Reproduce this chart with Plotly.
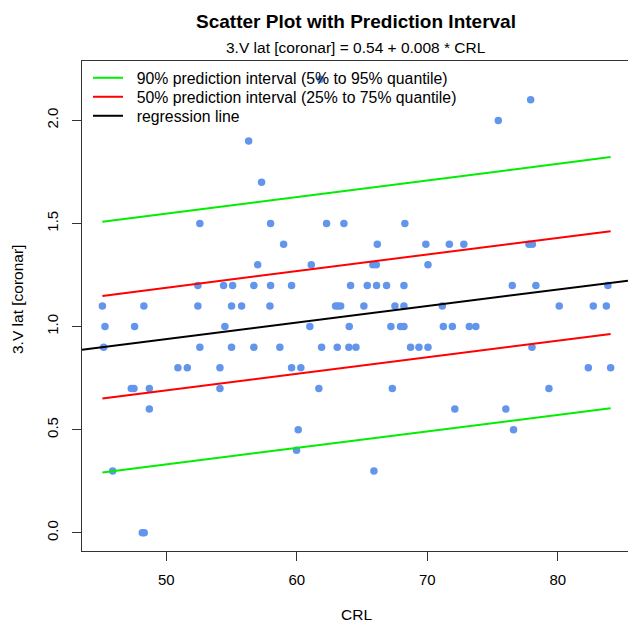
import plotly.graph_objects as go

# ---- data ----
crl = [61.82, 77.92, 75.44, 56.31, 57.30,
       52.57, 57.99, 62.28, 63.61, 68.28,
       58.99, 66.17, 69.89, 71.69, 72.80, 77.79, 78.05,
       57.00, 61.11, 65.83, 66.09, 70.05,
       52.42, 54.39, 55.08, 56.71, 57.99, 59.60, 64.12, 65.40, 66.11, 66.88, 68.21, 76.51, 78.32, 83.84,
       45.10, 48.28, 52.42, 55.00, 55.77, 57.94, 62.97, 63.15, 63.36, 65.14, 67.52, 68.21, 71.15, 80.11, 82.72, 83.72,
       45.30, 47.57, 54.49, 61.00, 64.02, 67.21, 67.95, 68.21, 71.23, 71.92, 73.22, 73.72,
       45.20, 52.57, 55.00, 56.71, 58.70, 61.90, 63.10, 63.99, 64.53, 68.72, 69.36, 70.05, 78.02,
       50.89, 51.61, 54.11, 59.60, 60.31, 82.34, 84.05,
       47.32, 47.52, 48.70, 54.11, 61.69, 67.32, 79.32,
       48.70, 72.11, 76.02,
       60.11, 76.61,
       59.98,
       45.89, 65.91,
       48.16, 48.31]
vlat = [2.2, 2.1, 2.0, 1.9, 1.7,
        1.5, 1.5, 1.5, 1.5, 1.5,
        1.4, 1.4, 1.4, 1.4, 1.4, 1.4, 1.4,
        1.3, 1.3, 1.3, 1.3, 1.3,
        1.2, 1.2, 1.2, 1.2, 1.2, 1.2, 1.2, 1.2, 1.2, 1.2, 1.2, 1.2, 1.2, 1.2,
        1.1, 1.1, 1.1, 1.1, 1.1, 1.1, 1.1, 1.1, 1.1, 1.1, 1.1, 1.1, 1.1, 1.1, 1.1, 1.1,
        1.0, 1.0, 1.0, 1.0, 1.0, 1.0, 1.0, 1.0, 1.0, 1.0, 1.0, 1.0,
        0.9, 0.9, 0.9, 0.9, 0.9, 0.9, 0.9, 0.9, 0.9, 0.9, 0.9, 0.9, 0.9,
        0.8, 0.8, 0.8, 0.8, 0.8, 0.8, 0.8,
        0.7, 0.7, 0.7, 0.7, 0.7, 0.7, 0.7,
        0.6, 0.6, 0.6,
        0.5, 0.5,
        0.4,
        0.3, 0.3,
        0.0, 0.0]

intercept = 0.54
slope = 0.008

pi_x = [45.10, 84.05]
pi90_upper = [1.508, 1.822]
pi90_lower = [0.293, 0.604]
pi50_upper = [1.149, 1.463]
pi50_lower = [0.652, 0.964]

x_range = [43.54, 85.38]
y_range = [-0.088, 2.288]
x_ticks = [50, 60, 70, 80]
y_ticks = [0.0, 0.5, 1.0, 1.5, 2.0]
y_ticktext = ["0.0", "0.5", "1.0", "1.5", "2.0"]

legend_labels = ["90% prediction interval (5% to 95% quantile)",
                 "50% prediction interval (25% to 75% quantile)",
                 "regression line"]

reg_x = x_range
reg_y = [intercept + slope * v for v in reg_x]

FONT = "Liberation Sans, Arial, sans-serif"
PAD = "\u00a0\u00a0"

fig = go.Figure()
fig.add_trace(go.Scatter(x=crl, y=vlat, mode="markers",
                         marker=dict(color="#6495ED", size=7.5),
                         showlegend=False, hoverinfo="x+y"))
fig.add_trace(go.Scatter(x=pi_x, y=pi90_upper, mode="lines",
                         line=dict(color="#00EE00", width=2),
                         name=PAD + legend_labels[0], legend="legend"))
fig.add_trace(go.Scatter(x=pi_x, y=pi90_lower, mode="lines",
                         line=dict(color="#00EE00", width=2),
                         showlegend=False))
fig.add_trace(go.Scatter(x=pi_x, y=pi50_upper, mode="lines",
                         line=dict(color="#FF0000", width=2),
                         name=PAD + legend_labels[1], legend="legend2"))
fig.add_trace(go.Scatter(x=pi_x, y=pi50_lower, mode="lines",
                         line=dict(color="#FF0000", width=2),
                         showlegend=False))
fig.add_trace(go.Scatter(x=reg_x, y=reg_y, mode="lines",
                         line=dict(color="#000000", width=2),
                         name=PAD + legend_labels[2], legend="legend3"))

L, R, T, B = 82, 0, 61, 73
W, H = 628, 624
pw, ph = W - L - R, H - T - B

def px(xp):
    return (xp - L) / pw

def py(yp):
    return (H - B - yp) / ph

def leg(top):
    return dict(x=px(88), y=py(top), xanchor="left", yanchor="top",
                bgcolor="rgba(0,0,0,0)", borderwidth=0,
                font=dict(family=FONT, size=15.8, color="#000000"),
                itemwidth=30)

fig.update_layout(
    width=W, height=H,
    margin=dict(l=L, r=R, t=T, b=B, pad=0),
    paper_bgcolor="white", plot_bgcolor="white",
    font=dict(family=FONT, size=15.5, color="#000000"),
    title=dict(text="<b>Scatter Plot with Prediction Interval</b>",
               x=356 / W, xanchor="center", xref="container",
               y=1 - 21 / H, yanchor="middle",
               font=dict(family=FONT, size=19, color="#000000")),
    legend=leg(61),
    legend2=leg(80),
    legend3=leg(99),
    showlegend=True,
    xaxis=dict(range=x_range, tickvals=x_ticks, ticks="outside", ticklen=9,
               tickcolor="#333333", showgrid=False, zeroline=False,
               showline=True, linecolor="#333333", linewidth=1, mirror=True,
               ticklabelstandoff=6,
               tickfont=dict(family=FONT, size=15)),
    yaxis=dict(range=y_range, tickvals=y_ticks, ticktext=y_ticktext,
               ticks="outside", ticklen=9, tickangle=-90,
               tickcolor="#333333", showgrid=False, zeroline=False,
               showline=True, linecolor="#333333", linewidth=1, mirror=False,
               ticklabelstandoff=8,
               tickfont=dict(family=FONT, size=15)),
    annotations=[
        dict(text="3.V lat [coronar] = 0.54 + 0.008 * CRL", xref="paper", yref="paper",
             x=px(356), y=py(48), xanchor="center", yanchor="middle", showarrow=False,
             font=dict(family=FONT, size=15.5)),
        dict(text="CRL", xref="paper", yref="paper",
             x=px(356), y=py(614), xanchor="center", yanchor="middle", showarrow=False,
             font=dict(family=FONT, size=15.5)),
        dict(text="3.V lat [coronar]", xref="paper", yref="paper",
             x=px(17), y=py(300), xanchor="center", yanchor="middle", showarrow=False,
             textangle=-90, font=dict(family=FONT, size=15.5)),
    ],
)

fig.write_html("out.html")
